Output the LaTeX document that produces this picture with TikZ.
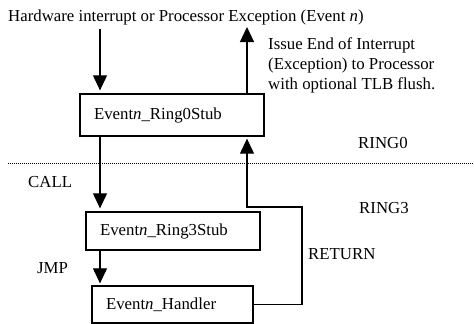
\documentclass[tikz,border=0pt]{standalone}
\usepackage{fontspec}
\setmainfont{Liberation Serif}
\usetikzlibrary{arrows.meta}
\begin{document}
\begin{tikzpicture}[x=1pt,y=-1pt,font=\fontsize{16.8}{20}\selectfont,
    stub/.style={draw,line width=1.3pt,inner xsep=14pt,inner ysep=0pt,align=left},
    flow/.style={line width=1.1pt,-{Triangle[width=14pt,length=15pt]}},
    lbl/.style={anchor=base west,inner sep=0pt}]
  \useasboundingbox (0,0) rectangle (474,324);

  \node[lbl] (src) at (8,21) {Hardware interrupt or Processor Exception (Event \textit{n})};

  \node[stub,text width=156pt,minimum height=42pt] (ring0) at (172,115) {Event\textit{n}\_Ring0Stub};
  \node[stub,text width=146pt,minimum height=38pt] (ring3) at (173,231) {Event\textit{n}\_Ring3Stub};
  \node[stub,text width=133pt,minimum height=37pt] (handler) at (172.5,304.5) {Event\textit{n}\_Handler};

  \coordinate (in) at (100,29);
  \coordinate (eoi) at (247,27);
  \coordinate (ret) at (302,207);

  \node[anchor=north west,inner sep=0pt,align=left] (eoitext) at (268,37)
    {Issue End of Interrupt\\(Exception) to Processor\\with optional TLB flush.};

  \draw[dash pattern=on .8pt off 1.2pt,line width=.6pt] (8,163) -- (474,163);

  \node[lbl] (ring0lbl) at (358,148) {RING0};
  \node[lbl] (ring3lbl) at (359,213) {RING3};
  \node[lbl] (call) at (28,187) {CALL};
  \node[lbl] (jmp) at (37,273) {JMP};
  \node[lbl] (return) at (308,259) {RETURN};

  \draw[flow,shorten >=3pt] (in) -- (in |- ring0.north);
  \draw[flow] (eoi |- ring0.north) -- (eoi);
  \draw[flow,shorten >=3pt] (in |- ring0.south) -- (in |- ring3.north);
  \draw[flow,shorten >=2pt] (in |- ring3.south) -- (in |- handler.north);
  \draw[flow,shorten >=2pt] (handler.east) -| (ret) -| (eoi |- ring0.south);
\end{tikzpicture}
\end{document}
